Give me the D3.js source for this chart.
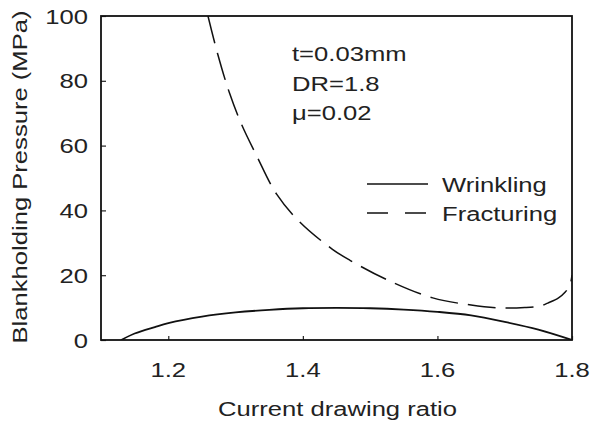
<!DOCTYPE html>
<html>
<head>
<meta charset="utf-8">
<script src="https://cdn.jsdelivr.net/npm/d3@7"></script>
<style>
  html, body { margin: 0; padding: 0; background: #fff; }
  svg text { font-family: "Liberation Sans", Arial, Helvetica, sans-serif; fill: #222; }
</style>
</head>
<body>
<svg id="chart" width="592" height="425"></svg>
<script>
// Current drawing ratio vs blankholding pressure limits
const wrinklingRatio = [1.13, 1.15, 1.18, 1.2, 1.25, 1.3, 1.35, 1.4, 1.45, 1.5, 1.55, 1.6, 1.65, 1.7, 1.75, 1.8];
const wrinklingPressure = [0, 2.0, 4.0, 5.2, 7.2, 8.5, 9.3, 9.8, 9.9, 9.8, 9.4, 8.7, 7.6, 5.6, 3.2, 0];

const fracturingRatio = [1.259, 1.273, 1.291, 1.309, 1.331, 1.361, 1.395, 1.444, 1.47, 1.526, 1.593, 1.65, 1.693, 1.73, 1.753, 1.764, 1.78, 1.79, 1.797, 1.8];
const fracturingPressure = [100, 88.6, 76.2, 66.5, 57, 45, 36.5, 28.0, 24.6, 18.5, 13, 10.8, 9.9, 10.0, 10.5, 11.4, 13, 14.8, 17, 20];

const xTicks = [1.2, 1.4, 1.6, 1.8];
const yTicks = [0, 20, 40, 60, 80, 100];
const conditions = ["t=0.03mm", "DR=1.8", "\u03bc=0.02"];
const legendLabels = ["Wrinkling", "Fracturing"];

const svg = d3.select("#chart");
const plotL = 101, plotR = 572, plotT = 16, plotB = 340;
const FS = 21, SX = 1.22;

const x = d3.scaleLinear().domain([1.1, 1.8]).range([plotL, plotR]);
const y = d3.scaleLinear().domain([0, 100]).range([plotB, plotT]);

// text helper: horizontally widened lettering
function label(g, str, tx, ty, anchor, rot) {
  return g.append("text")
    .attr("transform", `translate(${tx},${ty})` + (rot ? ` rotate(${rot})` : "") + ` scale(${SX},1)`)
    .attr("text-anchor", anchor)
    .attr("font-size", FS)
    .text(str);
}

svg.append("defs").append("clipPath").attr("id", "plot")
  .append("rect").attr("x", plotL).attr("y", plotT).attr("width", plotR - plotL).attr("height", plotB - plotT);

// axes with inward ticks
const xAxis = d3.axisBottom(x).tickValues(xTicks).tickSize(-4).tickFormat("");
const yAxis = d3.axisLeft(y).tickValues(yTicks).tickSize(-5).tickFormat("");
svg.append("g").attr("transform", `translate(0,${plotB})`).call(xAxis)
  .call(g => g.select(".domain").remove())
  .selectAll("line").attr("stroke", "#222").attr("stroke-width", 1.2);
svg.append("g").attr("transform", `translate(${plotL},0)`).call(yAxis)
  .call(g => g.select(".domain").remove())
  .selectAll("line").attr("stroke", "#222").attr("stroke-width", 1.2);

// frame
svg.append("rect")
  .attr("x", plotL).attr("y", plotT).attr("width", plotR - plotL).attr("height", plotB - plotT)
  .attr("fill", "none").attr("stroke", "#111").attr("stroke-width", 1.8);

// tick labels
const tl = svg.append("g");
xTicks.forEach(v => label(tl, v.toFixed(1), x(v), 377, "middle"));
yTicks.forEach(v => label(tl, String(v), 88, y(v) + 7.5, "end"));

// axis titles
label(svg, "Current drawing ratio", (plotL + plotR) / 2 + 1, 416, "middle");
label(svg, "Blankholding Pressure (MPa)", 27, 177, "middle", -90);

// curves
const line = d3.line().x(d => x(d[0])).y(d => y(d[1])).curve(d3.curveCatmullRom.alpha(0.5));
const plot = svg.append("g").attr("clip-path", "url(#plot)");
plot.append("path")
  .datum(wrinklingRatio.map((r, i) => [r, wrinklingPressure[i]]))
  .attr("d", line).attr("fill", "none").attr("stroke", "#111").attr("stroke-width", 1.8);
plot.append("path")
  .datum(fracturingRatio.map((r, i) => [r, fracturingPressure[i]]))
  .attr("d", line).attr("fill", "none").attr("stroke", "#111").attr("stroke-width", 1.5)
  .attr("stroke-dasharray", "28,10");

// condition annotation
conditions.forEach((c, i) => label(svg, c, 292, 61 + i * 29.5, "start"));

// legend
const lg = svg.append("g");
[[184, null], [213, "21,17"]].forEach(([ly, dash], i) => {
  lg.append("line").attr("x1", 367).attr("x2", 428).attr("y1", ly).attr("y2", ly)
    .attr("stroke", "#111").attr("stroke-width", 1.6)
    .attr("stroke-dasharray", dash);
  label(lg, legendLabels[i], 442, ly + 7.5, "start");
});
</script>
</body>
</html>
